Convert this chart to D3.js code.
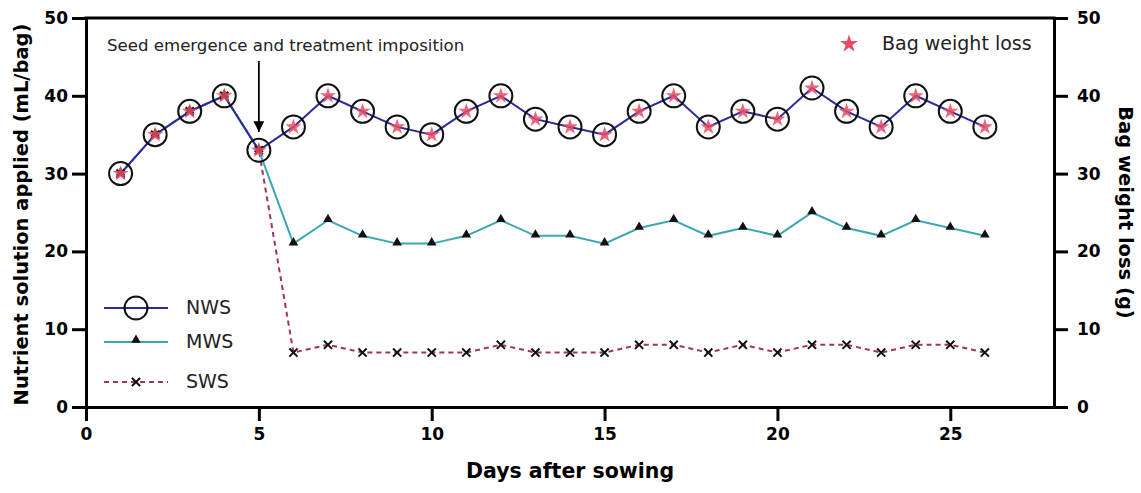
<!DOCTYPE html>
<html>
<head>
<meta charset="utf-8">
<script src="https://cdn.jsdelivr.net/npm/d3@7"></script>
<style>
  body { margin: 0; background: #fff; }
  text { font-family: "DejaVu Sans", Verdana, sans-serif; }
</style>
</head>
<body>
<div id="chart"></div>
<script>
const width = 1141;
const height = 493;

const days = d3.range(1, 27);
const nws = [30, 35, 38, 40, 33, 36, 40, 38, 36, 35, 38, 40, 37, 36, 35, 38, 40, 36, 38, 37, 41, 38, 36, 40, 38, 36];
const mws = [30, 35, 38, 40, 33, 21, 24, 22, 21, 21, 22, 24, 22, 22, 21, 23, 24, 22, 23, 22, 25, 23, 22, 24, 23, 22];
const sws = [30, 35, 38, 40, 33, 7, 8, 7, 7, 7, 7, 8, 7, 7, 7, 8, 8, 7, 8, 7, 8, 8, 7, 8, 8, 7];
const bagLoss = [30, 35, 38, 40, 33, 36, 40, 38, 36, 35, 38, 40, 37, 36, 35, 38, 40, 36, 38, 37, 41, 38, 36, 40, 38, 36];
const xTicks = [0, 5, 10, 15, 20, 25];
const yTicks = [0, 10, 20, 30, 40, 50];

const margin = { left: 86, right: 87, top: 18, bottom: 86 };

const svg = d3.select("#chart")
    .append("svg")
    .attr("width", width)
    .attr("height", height);

const x = d3.scaleLinear().domain([0, 28]).range([margin.left, width - margin.right]);
const y = d3.scaleLinear().domain([0, 50]).range([height - margin.bottom, margin.top]);
const y2 = d3.scaleLinear().domain([0, 50]).range([height - margin.bottom, margin.top]);

const navy = "#2b2a9c";
const teal = "#3ba7b3";
const maroon = "#a3325f";
const starCol = "#e84a64";

// axes
const axisStyle = g => {
    g.selectAll(".domain").attr("stroke", "#000").attr("stroke-width", 3);
    g.selectAll(".tick line").attr("stroke", "#000").attr("stroke-width", 3);
    g.selectAll(".tick text")
        .attr("fill", "#000")
        .style("font-size", "17px")
        .style("font-weight", "bold");
};

svg.append("g")
    .attr("transform", "translate(0," + y(0) + ")")
    .call(d3.axisBottom(x).tickValues(xTicks).tickSize(14).tickSizeOuter(0).tickPadding(7))
    .call(axisStyle);

svg.append("g")
    .attr("transform", "translate(" + margin.left + ",0)")
    .call(d3.axisLeft(y).tickValues(yTicks).tickSize(14).tickSizeOuter(0).tickPadding(4))
    .call(axisStyle);

svg.append("g")
    .attr("transform", "translate(" + x(28) + ",0)")
    .call(d3.axisRight(y2).tickValues(yTicks).tickSize(14).tickSizeOuter(0).tickPadding(9))
    .call(axisStyle);

// top border
svg.append("line")
    .attr("x1", x(0) - 1.5).attr("x2", x(28) + 1.5)
    .attr("y1", y(50)).attr("y2", y(50))
    .attr("stroke", "#000").attr("stroke-width", 3);

// axis titles
svg.append("text")
    .attr("transform", "translate(22," + (y(25) + 2) + ") rotate(-90)")
    .attr("text-anchor", "middle")
    .attr("dominant-baseline", "middle")
    .style("font-size", "19.5px")
    .style("font-weight", "bold")
    .text("Nutrient solution applied (mL/bag)");

svg.append("text")
    .attr("transform", "translate(1124," + y(25) + ") rotate(90)")
    .attr("text-anchor", "middle")
    .attr("dominant-baseline", "middle")
    .style("font-size", "19.5px")
    .style("font-weight", "bold")
    .text("Bag weight loss (g)");

svg.append("text")
    .attr("x", (x(0) + x(28)) / 2)
    .attr("y", 478)
    .attr("text-anchor", "middle")
    .style("font-size", "20.5px")
    .style("font-weight", "bold")
    .text("Days after sowing");

// lines
const line = d3.line().x((d, i) => x(days[i])).y(d => y(d));

svg.append("path").datum(sws)
    .attr("d", line).attr("fill", "none")
    .attr("stroke", maroon).attr("stroke-width", 2)
    .attr("stroke-dasharray", "5,4");

svg.append("path").datum(mws)
    .attr("d", line).attr("fill", "none")
    .attr("stroke", teal).attr("stroke-width", 2);

svg.append("path").datum(nws)
    .attr("d", line).attr("fill", "none")
    .attr("stroke", navy).attr("stroke-width", 2);

// markers
svg.append("g").selectAll("circle")
    .data(nws)
    .enter()
    .append("circle")
    .attr("cx", (d, i) => x(days[i]))
    .attr("cy", d => y(d))
    .attr("r", 11.5)
    .attr("fill", "none")
    .attr("stroke", "#111")
    .attr("stroke-width", 2);

const tri = d3.symbol().type(d3.symbolTriangle).size(40);
svg.append("g").selectAll("path")
    .data(mws)
    .enter()
    .append("path")
    .attr("d", tri)
    .attr("transform", (d, i) => "translate(" + x(days[i]) + "," + (y(d) - 1) + ")")
    .attr("fill", "#111");

const cross = d3.symbol().type(d3.symbolX).size(45);
svg.append("g").selectAll("path")
    .data(sws)
    .enter()
    .append("path")
    .attr("d", cross)
    .attr("transform", (d, i) => "translate(" + x(days[i]) + "," + y(d) + ")")
    .attr("fill", "none")
    .attr("stroke", "#111")
    .attr("stroke-width", 2);

const star = d3.symbol().type(d3.symbolStar).size(80);
svg.append("g").selectAll("path")
    .data(bagLoss)
    .enter()
    .append("path")
    .attr("d", star)
    .attr("transform", (d, i) => "translate(" + x(days[i]) + "," + y2(d) + ")")
    .attr("fill", starCol)
    .attr("opacity", 0.85);

// annotation
svg.append("defs").append("marker")
    .attr("id", "arrow")
    .attr("viewBox", "0 0 10 10")
    .attr("refX", 10).attr("refY", 5)
    .attr("markerWidth", 6).attr("markerHeight", 6)
    .attr("markerUnits", "strokeWidth")
    .attr("orient", "auto")
    .append("path")
    .attr("d", "M0,0 L10,5 L0,10 z")
    .attr("fill", "#000");

svg.append("line")
    .attr("x1", x(5)).attr("x2", x(5))
    .attr("y1", 61).attr("y2", 132)
    .attr("stroke", "#000").attr("stroke-width", 1.8)
    .attr("marker-end", "url(#arrow)");

svg.append("text")
    .attr("x", 107).attr("y", 51)
    .style("font-size", "16.6px")
    .attr("fill", "#222")
    .text("Seed emergence and treatment imposition");

// legend (left)
const legend = svg.append("g");
const legendRows = [
    { name: "NWS", y: 308, color: navy, dash: null, mark: "circle" },
    { name: "MWS", y: 342, color: teal, dash: null, mark: "tri" },
    { name: "SWS", y: 382, color: maroon, dash: "5,4", mark: "x" }
];
legendRows.forEach(r => {
    legend.append("line")
        .attr("x1", 104).attr("x2", 168)
        .attr("y1", r.y).attr("y2", r.y)
        .attr("stroke", r.color).attr("stroke-width", 2)
        .attr("stroke-dasharray", r.dash);
    if (r.mark === "circle") {
        legend.append("circle").attr("cx", 136).attr("cy", r.y).attr("r", 11.5)
            .attr("fill", "none").attr("stroke", "#111").attr("stroke-width", 2);
    } else if (r.mark === "tri") {
        legend.append("path").attr("d", tri)
            .attr("transform", "translate(136," + (r.y - 2) + ")").attr("fill", "#111");
    } else {
        legend.append("path").attr("d", cross)
            .attr("transform", "translate(136," + r.y + ")")
            .attr("fill", "none").attr("stroke", "#111").attr("stroke-width", 2);
    }
    legend.append("text")
        .attr("x", 186).attr("y", r.y)
        .attr("dominant-baseline", "middle")
        .style("font-size", "19px")
        .attr("fill", "#222")
        .text(r.name);
});

// legend (bag weight loss)
svg.append("path").attr("d", d3.symbol().type(d3.symbolStar).size(100))
    .attr("transform", "translate(849,44)")
    .attr("fill", starCol);
svg.append("text")
    .attr("x", 882).attr("y", 44)
    .attr("dominant-baseline", "middle")
    .style("font-size", "19px")
    .attr("fill", "#222")
    .text("Bag weight loss");
</script>
</body>
</html>
